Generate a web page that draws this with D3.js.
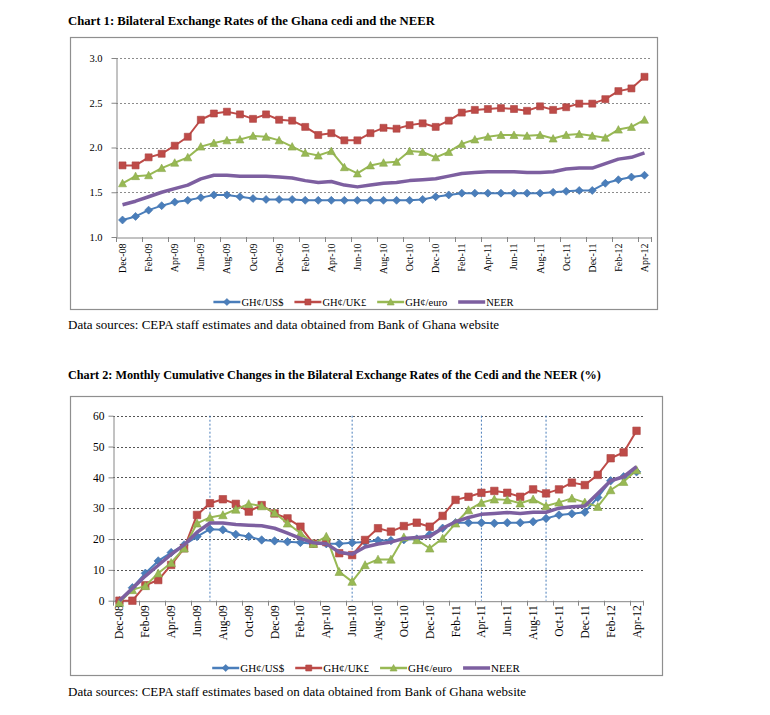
<!DOCTYPE html>
<html>
<head>
<meta charset="utf-8">
<script src="https://cdn.jsdelivr.net/npm/d3@7/dist/d3.min.js"></script>
<style>
  body { margin: 0; background: #fff; }
  svg text { font-family: "Liberation Serif", "Times New Roman", serif; fill: #000; }
</style>
</head>
<body>
<svg id="page" width="770" height="715"></svg>
<script>
/*
 * Data
 */

// Monthly categories, Dec-08 to Apr-12
const months = [
  'Dec-08', 'Jan-09', 'Feb-09', 'Mar-09', 'Apr-09', 'May-09', 'Jun-09', 'Jul-09',
  'Aug-09', 'Sep-09', 'Oct-09', 'Nov-09', 'Dec-09', 'Jan-10', 'Feb-10', 'Mar-10',
  'Apr-10', 'May-10', 'Jun-10', 'Jul-10', 'Aug-10', 'Sep-10', 'Oct-10', 'Nov-10',
  'Dec-10', 'Jan-11', 'Feb-11', 'Mar-11', 'Apr-11', 'May-11', 'Jun-11', 'Jul-11',
  'Aug-11', 'Sep-11', 'Oct-11', 'Nov-11', 'Dec-11', 'Jan-12', 'Feb-12', 'Mar-12',
  'Apr-12'
];

// Labelled months on the category axis
const tickMonths = [
  'Dec-08', 'Feb-09', 'Apr-09', 'Jun-09', 'Aug-09', 'Oct-09', 'Dec-09', 'Feb-10',
  'Apr-10', 'Jun-10', 'Aug-10', 'Oct-10', 'Dec-10', 'Feb-11', 'Apr-11', 'Jun-11',
  'Aug-11', 'Oct-11', 'Dec-11', 'Feb-12', 'Apr-12'
];

const seriesNames = ['GH\u00A2/US$', 'GH\u00A2/UK\u00A3', 'GH\u00A2/euro', 'NEER'];

// Chart 1: bilateral rates (cedi per unit) and NEER index
const rateUsd = [
  1.19, 1.23, 1.30, 1.35, 1.39, 1.41, 1.44, 1.47, 1.47, 1.45, 1.43, 1.42, 1.42, 1.42,
  1.41, 1.41, 1.41, 1.41, 1.41, 1.41, 1.41, 1.41, 1.41, 1.42, 1.45, 1.47, 1.49, 1.49,
  1.49, 1.49, 1.49, 1.49, 1.49, 1.50, 1.51, 1.52, 1.52, 1.60, 1.64, 1.67, 1.69
];
const rateGbp = [
  1.80, 1.80, 1.89, 1.93, 2.02, 2.12, 2.31, 2.38, 2.40, 2.37, 2.32, 2.37, 2.31, 2.30,
  2.23, 2.14, 2.16, 2.08, 2.08, 2.16, 2.22, 2.21, 2.25, 2.27, 2.23, 2.30, 2.39, 2.42,
  2.43, 2.44, 2.43, 2.41, 2.46, 2.42, 2.45, 2.49, 2.49, 2.54, 2.63, 2.66, 2.79
];
const rateEur = [
  1.60, 1.68, 1.69, 1.77, 1.83, 1.89, 2.01, 2.05, 2.08, 2.09, 2.13, 2.12, 2.08, 2.01,
  1.94, 1.91, 1.96, 1.78, 1.71, 1.80, 1.83, 1.84, 1.96, 1.95, 1.89, 1.95, 2.04, 2.09,
  2.12, 2.14, 2.14, 2.13, 2.14, 2.10, 2.14, 2.15, 2.13, 2.11, 2.20, 2.23, 2.31
];
const rateNeer = [
  1.36, 1.40, 1.45, 1.50, 1.54, 1.58, 1.65, 1.69, 1.69, 1.68, 1.68, 1.68, 1.67, 1.66,
  1.63, 1.61, 1.62, 1.58, 1.56, 1.58, 1.60, 1.61, 1.63, 1.64, 1.65, 1.68, 1.71, 1.72,
  1.73, 1.73, 1.73, 1.72, 1.72, 1.73, 1.76, 1.77, 1.77, 1.82, 1.87, 1.89, 1.94
];

// Chart 2: cumulative change since Dec-08 (%)
const changeUsd = [
  0, 4.2, 8.9, 12.9, 15.6, 18.1, 20.8, 23.2, 23.0, 21.5, 20.8, 19.7, 19.4, 19.1,
  18.9, 18.5, 18.5, 18.5, 18.8, 19.0, 19.5, 19.5, 19.8, 20.0, 21.5, 23.5, 25.3, 25.3,
  25.3, 25.1, 25.3, 25.3, 25.6, 26.7, 27.8, 28.2, 28.7, 33.5, 38.9, 40.2, 41.8
];
const changeGbp = [
  0, 0, 5.0, 6.7, 11.6, 17.0, 27.8, 31.6, 32.9, 31.4, 28.9, 31.0, 28.3, 26.7,
  24.0, 18.5, 19.0, 15.4, 14.8, 19.7, 23.5, 22.4, 24.2, 25.3, 24.0, 27.5, 32.7, 33.7,
  35.0, 35.6, 35.0, 33.7, 36.1, 34.8, 36.1, 38.3, 37.5, 40.8, 46.2, 48.1, 55.1
];
const changeEur = [
  -0.6, 3.5, 4.8, 8.9, 12.3, 17.0, 25.1, 27.0, 27.8, 29.6, 31.4, 30.7, 28.5, 25.1,
  21.9, 18.5, 20.8, 9.4, 6.2, 11.6, 13.4, 13.4, 20.6, 19.7, 17.0, 20.2, 25.1, 29.4,
  31.8, 32.9, 32.7, 31.6, 32.9, 30.7, 31.9, 33.2, 31.9, 30.5, 35.9, 38.6, 42.4
];
const changeNeer = [
  0, 4.0, 8.0, 11.5, 15.0, 18.1, 22.2, 25.2, 25.2, 24.7, 24.5, 24.3, 23.5, 21.9,
  20.2, 18.8, 18.5, 15.7, 15.1, 17.4, 18.4, 19.0, 20.2, 20.5, 20.8, 23.5, 25.6, 27.0,
  28.0, 28.3, 28.6, 28.3, 28.7, 28.7, 30.0, 30.5, 30.7, 34.8, 38.9, 40.2, 43.5
];

// Months flagged with vertical reference lines on chart 2
const flaggedMonths = ['Jul-09', 'Jun-10', 'Apr-11', 'Sep-11'];

const rateTicks = [1.0, 1.5, 2.0, 2.5, 3.0];
const changeTicks = [0, 10, 20, 30, 40, 50, 60];

/*------------------------------------------------------*/

/*
 * Styles
 */

const colors = ['#4a7ebb', '#be4b48', '#98b954', '#7d5fa0'];
const markers = ['diamond', 'square', 'triangle', null];
const lineWidths = [2, 2, 2, 3.5];

const svg = d3.select('#page');

// Draw a single marker shape centred at 0,0
function drawMarker(sel, type, size, color) {
  const h = size / 2;
  let d = null;
  if (type === 'square') d = `M${-h},${-h}H${h}V${h}H${-h}Z`;
  if (type === 'diamond') d = `M0,${-h - 0.5}L${h + 0.5},0L0,${h + 0.5}L${-h - 0.5},0Z`;
  if (type === 'triangle') d = `M0,${-h - 0.5}L${h + 0.5},${h}L${-h - 0.5},${h}Z`;
  if (d === null) return;
  sel.append('path')
    .attr('d', d)
    .attr('fill', color)
    .attr('stroke', d3.color(color).darker(0.3))
    .attr('stroke-width', 0.6);
}

/*------------------------------------------------------*/

/*
 * Chart builder
 */

function drawChart(cfg) {
  const g = svg.append('g');

  // Title
  g.append('text')
    .attr('x', 68)
    .attr('y', cfg.titleY)
    .attr('font-size', cfg.titleSize)
    .attr('font-weight', 'bold')
    .text(cfg.title);

  // Chart frame
  g.append('rect')
    .attr('x', cfg.box[0] + 0.5)
    .attr('y', cfg.box[1] + 0.5)
    .attr('width', cfg.box[2] - cfg.box[0])
    .attr('height', cfg.box[3] - cfg.box[1])
    .attr('fill', '#fff')
    .attr('stroke', '#8f8f8f')
    .attr('stroke-width', 1.2);

  // Scales
  const x = d3.scaleBand()
    .domain(months)
    .range([cfg.left, cfg.right]);
  const cx = (m) => x(m) + x.bandwidth() / 2;
  const y = d3.scaleLinear()
    .domain(d3.extent(cfg.yTicks))
    .range([cfg.bottom, cfg.top]);

  // Horizontal gridlines
  g.append('g')
    .selectAll('line')
    .data(cfg.yTicks.slice(1))
    .join('line')
    .attr('x1', cfg.left)
    .attr('x2', cfg.right)
    .attr('y1', (d) => Math.round(y(d)) + 0.5)
    .attr('y2', (d) => Math.round(y(d)) + 0.5)
    .attr('stroke', cfg.gridColor)
    .attr('stroke-width', 1)
    .attr('stroke-dasharray', '2,2');

  // Vertical reference lines
  g.append('g')
    .selectAll('line')
    .data(cfg.flags)
    .join('line')
    .attr('x1', (d) => cx(d))
    .attr('x2', (d) => cx(d))
    .attr('y1', cfg.top)
    .attr('y2', cfg.bottom)
    .attr('stroke', '#4a7ebb')
    .attr('stroke-width', 1)
    .attr('stroke-dasharray', '2,2');

  // Y axis
  const yAxis = g.append('g')
    .attr('transform', `translate(${cfg.left + 0.5},0)`)
    .call(d3.axisLeft(y)
      .tickValues(cfg.yTicks)
      .tickFormat(cfg.yFormat)
      .tickSize(5)
      .tickSizeOuter(0)
      .tickPadding(cfg.yPad));
  yAxis.selectAll('path, line').attr('stroke', '#868686');
  yAxis.selectAll('text')
    .attr('font-size', cfg.yFontSize)
    .style('font-family', '"Liberation Serif", serif');

  // X axis: labels centred on categories, tick marks on category boundaries
  const xAxis = g.append('g')
    .attr('transform', `translate(0,${cfg.bottom + 0.5})`)
    .call(d3.axisBottom(x)
      .tickValues(tickMonths)
      .tickSize(0)
      .tickSizeOuter(0)
      .tickPadding(0));
  xAxis.select('.domain').attr('stroke', '#868686');
  xAxis.selectAll('text')
    .attr('font-size', cfg.fontSize)
    .style('font-family', '"Liberation Serif", serif')
    .attr('text-anchor', 'end')
    .attr('transform', 'rotate(-90)')
    .attr('x', -cfg.xPad)
    .attr('y', 0)
    .attr('dy', '0.35em');
  g.append('g')
    .selectAll('line')
    .data(tickMonths.map((m) => x(m)).concat([cfg.right]))
    .join('line')
    .attr('x1', (d) => Math.round(d) + 0.5)
    .attr('x2', (d) => Math.round(d) + 0.5)
    .attr('y1', cfg.bottom)
    .attr('y2', cfg.bottom + 5)
    .attr('stroke', '#868686');

  // Series lines and markers
  const line = d3.line()
    .x((d, i) => cx(months[i]))
    .y((d) => y(d));

  cfg.series.forEach((values, s) => {
    g.append('path')
      .datum(values)
      .attr('d', line)
      .attr('fill', 'none')
      .attr('stroke', colors[s])
      .attr('stroke-width', lineWidths[s])
      .attr('stroke-linejoin', 'round');

    if (markers[s]) {
      g.append('g')
        .selectAll('g')
        .data(values)
        .join('g')
        .attr('transform', (d, i) => `translate(${cx(months[i])},${y(d)})`)
        .each(function () { drawMarker(d3.select(this), markers[s], cfg.markerSize, colors[s]); });
    }
  });

  // Legend, centred on the frame
  const legend = g.append('g');
  let offset = 0;
  seriesNames.forEach((name, s) => {
    const item = legend.append('g').attr('transform', `translate(${offset},0)`);
    item.append('line')
      .attr('x1', 0).attr('x2', 27)
      .attr('y1', 0).attr('y2', 0)
      .attr('stroke', colors[s])
      .attr('stroke-width', s === 3 ? 3.5 : 2.5);
    const m = item.append('g').attr('transform', 'translate(13.5,0)');
    drawMarker(m, markers[s], 6, colors[s]);
    const label = item.append('text')
      .attr('x', 28)
      .attr('dy', '0.35em')
      .attr('font-size', cfg.legendSize)
      .text(name);
    offset += 28 + label.node().getComputedTextLength() + 11;
  });
  const legendWidth = offset - 11;
  legend.attr('transform',
    `translate(${(cfg.box[0] + cfg.box[2]) / 2 - legendWidth / 2},${cfg.legendY})`);

  // Data source note
  g.append('text')
    .attr('x', 68)
    .attr('y', cfg.sourceY)
    .attr('font-size', 13)
    .text(cfg.source);
}

/*------------------------------------------------------*/

/*
 * Draw both charts
 */

drawChart({
  title: 'Chart 1: Bilateral Exchange Rates of the Ghana cedi and the NEER',
  titleY: 25,
  titleSize: 12.7,
  box: [70, 37, 657, 309],
  left: 116, right: 651, top: 58, bottom: 237,
  yTicks: rateTicks,
  yFormat: d3.format('.1f'),
  yPad: 9,
  xPad: 6,
  fontSize: 10,
  yFontSize: 10.5,
  legendSize: 10.5,
  gridColor: '#8c8c8c',
  flags: [],
  series: [rateUsd, rateGbp, rateEur, rateNeer],
  markerSize: 7,
  legendY: 302,
  sourceY: 329,
  source: 'Data sources: CEPA staff estimates and data obtained from Bank of Ghana website'
});

drawChart({
  title: 'Chart 2: Monthly Cumulative Changes in the Bilateral Exchange Rates of the Cedi and the NEER (%)',
  titleY: 379,
  titleSize: 12.2,
  box: [70, 396, 662, 675],
  left: 113, right: 643, top: 415.7, bottom: 600.7,
  yTicks: changeTicks,
  yFormat: d3.format('d'),
  yPad: 4,
  xPad: 4,
  fontSize: 11.5,
  yFontSize: 11.5,
  legendSize: 11,
  gridColor: '#555',
  flags: flaggedMonths,
  series: [changeUsd, changeGbp, changeEur, changeNeer],
  markerSize: 7.5,
  legendY: 668,
  sourceY: 696,
  source: 'Data sources: CEPA staff estimates based on data obtained from Bank of Ghana website'
});
</script>
</body>
</html>
